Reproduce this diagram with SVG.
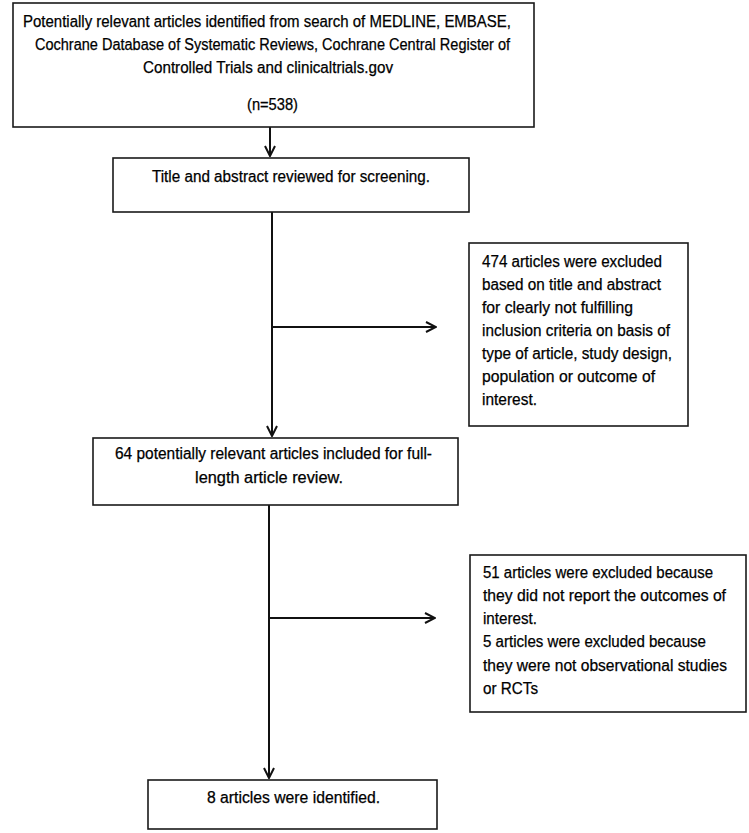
<svg xmlns="http://www.w3.org/2000/svg" width="749" height="833" viewBox="0 0 749 833">
<style>
  .box { fill: #ffffff; stroke: #1a1a1a; stroke-width: 1.6; }
  .t { font-family: "Liberation Sans", Arial, sans-serif; font-size: 16px; fill: #000000; stroke: #000000; stroke-width: 0.25; }
  .edge { stroke: #111111; stroke-width: 2; fill: none; }
</style>
<defs>
  <marker id="arr" viewBox="0 0 12 12" refX="11" refY="6" markerWidth="12" markerHeight="12" markerUnits="userSpaceOnUse" orient="auto">
    <path d="M1,1 L11,6 L1,11" fill="none" stroke="#111111" stroke-width="2"/>
  </marker>
</defs>
<rect width="749" height="833" fill="#ffffff"/>

<g id="connectors">
  <line class="edge" x1="270" y1="127" x2="270" y2="156" marker-end="url(#arr)"/>
  <line class="edge" x1="272" y1="212" x2="272" y2="436" marker-end="url(#arr)"/>
  <line class="edge" x1="272" y1="327" x2="436" y2="327" marker-end="url(#arr)"/>
  <line class="edge" x1="269" y1="505" x2="269" y2="778" marker-end="url(#arr)"/>
  <line class="edge" x1="269" y1="618" x2="435" y2="618" marker-end="url(#arr)"/>
</g>

<g id="search">
  <rect class="box" x="13" y="3" width="521" height="124"/>
  <text class="t" x="23" y="27" textLength="488" lengthAdjust="spacingAndGlyphs">Potentially relevant articles identified from search of MEDLINE, EMBASE,</text>
  <text class="t" x="35" y="50" textLength="475" lengthAdjust="spacingAndGlyphs">Cochrane Database of Systematic Reviews, Cochrane Central Register of</text>
  <text class="t" x="143" y="73" textLength="250" lengthAdjust="spacingAndGlyphs">Controlled Trials and clinicaltrials.gov</text>
  <text class="t" x="247" y="110" textLength="51" lengthAdjust="spacingAndGlyphs">(n=538)</text>
</g>

<g id="screening">
  <rect class="box" x="113" y="158" width="356" height="54"/>
  <text class="t" x="152" y="182" textLength="278" lengthAdjust="spacingAndGlyphs">Title and abstract reviewed for screening.</text>
</g>

<g id="excluded1">
  <rect class="box" x="469" y="243" width="219" height="183"/>
  <text class="t" x="482" y="267" textLength="180" lengthAdjust="spacingAndGlyphs">474 articles were excluded</text>
  <text class="t" x="482" y="290" textLength="179" lengthAdjust="spacingAndGlyphs">based on title and abstract</text>
  <text class="t" x="482" y="313" textLength="151" lengthAdjust="spacingAndGlyphs">for clearly not fulfilling</text>
  <text class="t" x="482" y="336" textLength="188" lengthAdjust="spacingAndGlyphs">inclusion criteria on basis of</text>
  <text class="t" x="482" y="359" textLength="190" lengthAdjust="spacingAndGlyphs">type of article, study design,</text>
  <text class="t" x="482" y="382" textLength="173" lengthAdjust="spacingAndGlyphs">population or outcome of</text>
  <text class="t" x="482" y="405" textLength="55" lengthAdjust="spacingAndGlyphs">interest.</text>
</g>

<g id="fulltext">
  <rect class="box" x="93" y="438" width="365" height="67"/>
  <text class="t" x="115" y="459" textLength="317" lengthAdjust="spacingAndGlyphs">64 potentially relevant articles included for full-</text>
  <text class="t" x="195" y="483" textLength="148" lengthAdjust="spacingAndGlyphs">length article review.</text>
</g>

<g id="excluded2">
  <rect class="box" x="470" y="555" width="276" height="157"/>
  <text class="t" x="483" y="578" textLength="230" lengthAdjust="spacingAndGlyphs">51 articles were excluded because</text>
  <text class="t" x="483" y="601" textLength="243" lengthAdjust="spacingAndGlyphs">they did not report the outcomes of</text>
  <text class="t" x="483" y="624" textLength="54" lengthAdjust="spacingAndGlyphs">interest.</text>
  <text class="t" x="483" y="647" textLength="223" lengthAdjust="spacingAndGlyphs">5 articles were excluded because</text>
  <text class="t" x="483" y="671" textLength="244" lengthAdjust="spacingAndGlyphs">they were not observational studies</text>
  <text class="t" x="483" y="694" textLength="55" lengthAdjust="spacingAndGlyphs">or RCTs</text>
</g>

<g id="identified">
  <rect class="box" x="148" y="780" width="289" height="49"/>
  <text class="t" x="207" y="803" textLength="173" lengthAdjust="spacingAndGlyphs">8 articles were identified.</text>
</g>
</svg>
